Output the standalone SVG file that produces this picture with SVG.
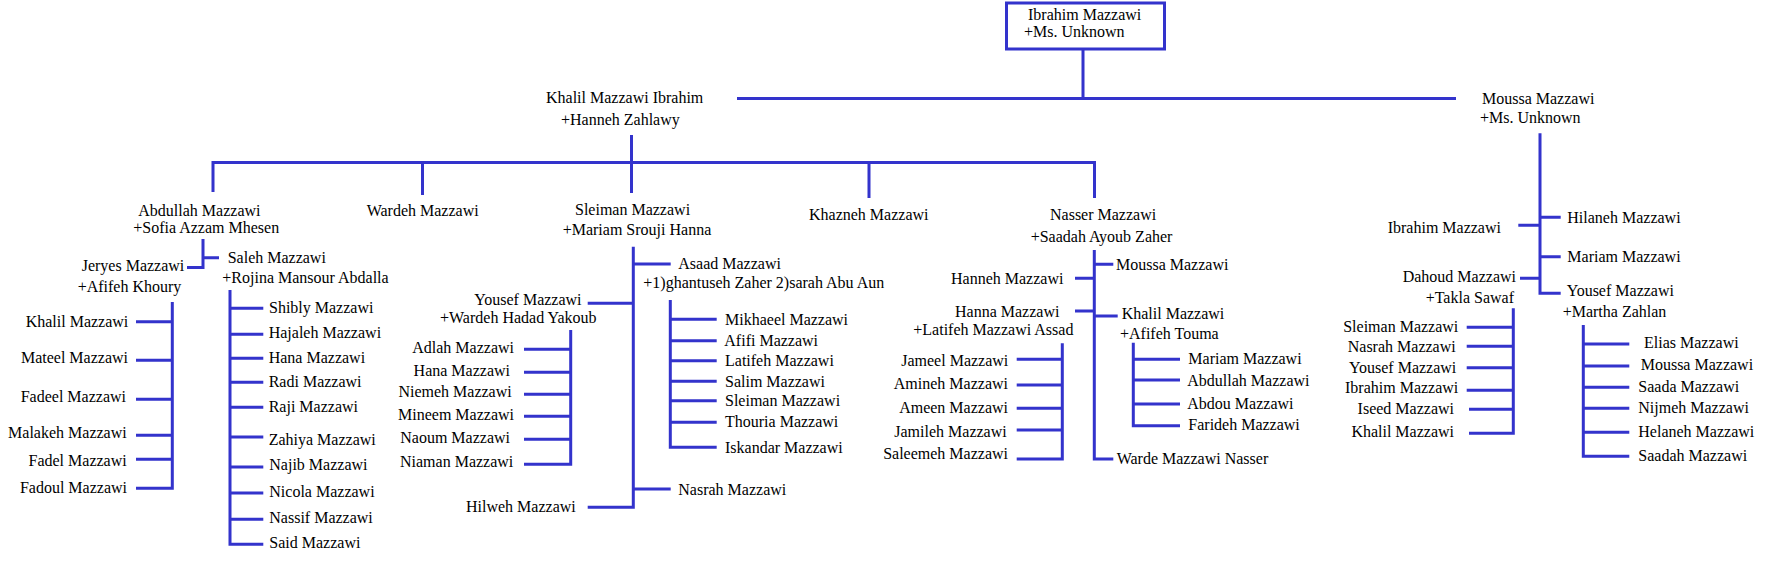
<svg xmlns="http://www.w3.org/2000/svg" width="1765" height="564" viewBox="0 0 1765 564">
<style>
.t{font-family:"Liberation Serif","Times New Roman",serif;font-size:16px;fill:#000}
.e{text-anchor:end}
.c{stroke:#3333cc;stroke-width:3;fill:none;stroke-linejoin:miter}
.box{stroke:#3333cc;stroke-width:3;fill:#fff}
</style>
<rect width="1765" height="564" fill="#fff"/>
<g id="connectors" class="c">
<path d="M1083 50V98.5M737 98.5H1456"/>
<path d="M631.5 135V162.5M213 192V162.5H1094.5V198M422.5 162.5V195M631.5 162.5V193M869 162.5V198"/>
<path d="M203 239V267.5H187M203 257.7H219"/>
<path d="M172.3 302V488.3H136M136 321.7H172.3M136 360.3H172.3M136 399.3H172.3M136 435.3H172.3M136 459.3H172.3"/>
<path d="M230 290V544.3H263.3M230 308.3H263.3M230 334.3H263.3M230 358.3H263.3M230 382.3H263.3M230 407.3H263.3M230 437H263.3M230 467H263.3M230 493H263.3M230 519.3H263.3"/>
<path d="M633.3 246.7V507.3H587.7M633.3 264H670.7M633.3 303.3H587.7M633.3 489H670.7"/>
<path d="M570.7 330V464.3H524M524 349.3H570.7M524 372.3H570.7M524 394.3H570.7M524 416.3H570.7M524 439.3H570.7"/>
<path d="M670.3 300V447.3H716.7M670.3 319.3H716.7M670.3 340.7H716.7M670.3 360.7H716.7M670.3 381.3H716.7M670.3 400.7H716.7M670.3 422.3H716.7"/>
<path d="M1094.3 250V459H1113.3M1094.3 264.3H1113.3M1094.3 278.3H1075M1094.3 311H1075M1094.3 316H1117.7"/>
<path d="M1062.3 343.3V459H1016.7M1016.7 359.3H1062.3M1016.7 385H1062.3M1016.7 408.3H1062.3M1016.7 430H1062.3"/>
<path d="M1133.3 342.7V425.7H1180M1133.3 359.3H1180M1133.3 380H1180M1133.3 404H1180"/>
<path d="M1540 133.3V293.3H1560.7M1540 217.3H1560.7M1540 256.7H1560.7M1540 225.3H1518.3M1540 278.3H1520"/>
<path d="M1513.3 308.3V433.3H1469M1466.7 327.3H1513.3M1466.7 346.3H1513.3M1466.7 367.7H1513.3M1466.7 390.3H1513.3M1469 409.3H1513.3"/>
<path d="M1583.3 325V456.3H1629.3M1583.3 344H1629.3M1583.3 366H1629.3M1583.3 387.3H1629.3M1583.3 408.3H1629.3M1583.3 432.3H1629.3"/>
</g>
<g id="n-ibrahim-root"><rect class="box" x="1006.5" y="3" width="158" height="46"/><text class="t" x="1028" y="20">Ibrahim Mazzawi</text><text class="t" x="1024" y="37">+Ms. Unknown</text></g>
<g id="n-khalil"><text class="t" x="546" y="103">Khalil Mazzawi Ibrahim</text><text class="t" x="561" y="125">+Hanneh Zahlawy</text></g>
<g id="n-moussa"><text class="t" x="1482" y="104">Moussa Mazzawi</text><text class="t" x="1480" y="123">+Ms. Unknown</text></g>
<g id="n-abdullah"><text class="t" x="138.3" y="216">Abdullah Mazzawi</text><text class="t" x="133.3" y="233">+Sofia Azzam Mhesen</text></g>
<g id="n-wardeh"><text class="t" x="366.7" y="216">Wardeh Mazzawi</text></g>
<g id="n-sleiman"><text class="t" x="575" y="215">Sleiman Mazzawi</text><text class="t" x="562.7" y="235">+Mariam Srouji Hanna</text></g>
<g id="n-khazneh"><text class="t" x="809" y="220">Khazneh Mazzawi</text></g>
<g id="n-nasser"><text class="t" x="1050" y="220">Nasser Mazzawi</text><text class="t" x="1030.7" y="241.7">+Saadah Ayoub Zaher</text></g>
<g id="n-jeryes"><text class="t" x="81.7" y="271">Jeryes Mazzawi</text><text class="t" x="77.7" y="291.7">+Afifeh Khoury</text></g>
<g id="n-saleh"><text class="t" x="227.7" y="263.3">Saleh Mazzawi</text><text class="t" x="222.3" y="282.7">+Rojina Mansour Abdalla</text></g>
<g id="n-jeryes-kids">
<text class="t e" x="128.3" y="326.7">Khalil Mazzawi</text>
<text class="t e" x="128" y="362.7">Mateel Mazzawi</text>
<text class="t e" x="126" y="401.7">Fadeel Mazzawi</text>
<text class="t e" x="126.7" y="437.7">Malakeh Mazzawi</text>
<text class="t e" x="126.7" y="465.7">Fadel Mazzawi</text>
<text class="t e" x="127" y="492.7">Fadoul Mazzawi</text>
</g>
<g id="n-saleh-kids">
<text class="t" x="269" y="312.7">Shibly Mazzawi</text>
<text class="t" x="268.7" y="338.3">Hajaleh Mazzawi</text>
<text class="t" x="268.7" y="362.7">Hana Mazzawi</text>
<text class="t" x="268.7" y="386.7">Radi Mazzawi</text>
<text class="t" x="268.7" y="411.7">Raji Mazzawi</text>
<text class="t" x="268.7" y="445">Zahiya Mazzawi</text>
<text class="t" x="269.3" y="470">Najib Mazzawi</text>
<text class="t" x="269.3" y="496.7">Nicola Mazzawi</text>
<text class="t" x="269.3" y="523.3">Nassif Mazzawi</text>
<text class="t" x="269.3" y="548.3">Said Mazzawi</text>
</g>
<g id="n-asaad"><text class="t" x="678.3" y="269.3">Asaad Mazzawi</text><text class="t" x="643.3" y="288.3">+1)ghantuseh Zaher 2)sarah Abu Aun</text></g>
<g id="n-yousef"><text class="t" x="474.3" y="305">Yousef Mazzawi</text><text class="t" x="440" y="323.3">+Wardeh Hadad Yakoub</text></g>
<g id="n-yousef-kids">
<text class="t e" x="514" y="352.7">Adlah Mazzawi</text>
<text class="t e" x="510" y="375.7">Hana Mazzawi</text>
<text class="t e" x="511.7" y="397.3">Niemeh Mazzawi</text>
<text class="t e" x="514" y="420">Mineem Mazzawi</text>
<text class="t e" x="510" y="442.7">Naoum Mazzawi</text>
<text class="t e" x="513.3" y="467.3">Niaman Mazzawi</text>
</g>
<g id="n-asaad-kids">
<text class="t" x="725" y="325">Mikhaeel Mazzawi</text>
<text class="t" x="724.3" y="346">Afifi Mazzawi</text>
<text class="t" x="725" y="366">Latifeh Mazzawi</text>
<text class="t" x="725" y="386.7">Salim Mazzawi</text>
<text class="t" x="725" y="406">Sleiman Mazzawi</text>
<text class="t" x="725" y="427.3">Thouria Mazzawi</text>
<text class="t" x="725" y="453.3">Iskandar Mazzawi</text>
</g>
<g id="n-nasrah"><text class="t" x="678.3" y="495">Nasrah Mazzawi</text></g>
<g id="n-hilweh"><text class="t" x="466" y="511.7">Hilweh Mazzawi</text></g>
<g id="n-moussa2"><text class="t" x="1116" y="270">Moussa Mazzawi</text></g>
<g id="n-hanneh"><text class="t" x="951" y="284.3">Hanneh Mazzawi</text></g>
<g id="n-hanna"><text class="t" x="955" y="317.3">Hanna Mazzawi</text><text class="t" x="913.3" y="335">+Latifeh Mazzawi Assad</text></g>
<g id="n-khalil2"><text class="t" x="1121.7" y="319">Khalil Mazzawi</text><text class="t" x="1120" y="339">+Afifeh Touma</text></g>
<g id="n-hanna-kids">
<text class="t e" x="1008.3" y="365.7">Jameel Mazzawi</text>
<text class="t e" x="1008" y="389.3">Amineh Mazzawi</text>
<text class="t e" x="1008" y="413.3">Ameen Mazzawi</text>
<text class="t e" x="1006.7" y="437.3">Jamileh Mazzawi</text>
<text class="t e" x="1008" y="459.3">Saleemeh Mazzawi</text>
</g>
<g id="n-khalil2-kids">
<text class="t" x="1188.3" y="364.3">Mariam Mazzawi</text>
<text class="t" x="1187.3" y="385.7">Abdullah Mazzawi</text>
<text class="t" x="1187.3" y="409.3">Abdou Mazzawi</text>
<text class="t" x="1188.3" y="430">Farideh Mazzawi</text>
</g>
<g id="n-warde"><text class="t" x="1116.7" y="464.3">Warde Mazzawi Nasser</text></g>
<g id="n-hilaneh"><text class="t" x="1567.3" y="222.7">Hilaneh Mazzawi</text></g>
<g id="n-ibrahim2"><text class="t" x="1387.7" y="232.7">Ibrahim Mazzawi</text></g>
<g id="n-mariam2"><text class="t" x="1567.3" y="261.7">Mariam Mazzawi</text></g>
<g id="n-dahoud"><text class="t" x="1402.7" y="281.7">Dahoud Mazzawi</text><text class="t" x="1425.7" y="303.3">+Takla Sawaf</text></g>
<g id="n-yousef2"><text class="t" x="1566.7" y="296">Yousef Mazzawi</text><text class="t" x="1562.7" y="316.7">+Martha Zahlan</text></g>
<g id="n-dahoud-kids">
<text class="t e" x="1458.3" y="331.7">Sleiman Mazzawi</text>
<text class="t e" x="1455.7" y="351.7">Nasrah Mazzawi</text>
<text class="t e" x="1456.3" y="372.7">Yousef Mazzawi</text>
<text class="t e" x="1458.3" y="393.3">Ibrahim Mazzawi</text>
<text class="t e" x="1454" y="414.3">Iseed Mazzawi</text>
<text class="t e" x="1454" y="436.7">Khalil Mazzawi</text>
</g>
<g id="n-yousef2-kids">
<text class="t" x="1644" y="348.3">Elias Mazzawi</text>
<text class="t" x="1640.7" y="370">Moussa Mazzawi</text>
<text class="t" x="1638.3" y="392.3">Saada Mazzawi</text>
<text class="t" x="1638.3" y="413.3">Nijmeh Mazzawi</text>
<text class="t" x="1638.3" y="436.7">Helaneh Mazzawi</text>
<text class="t" x="1638.3" y="461">Saadah Mazzawi</text>
</g>
</svg>
